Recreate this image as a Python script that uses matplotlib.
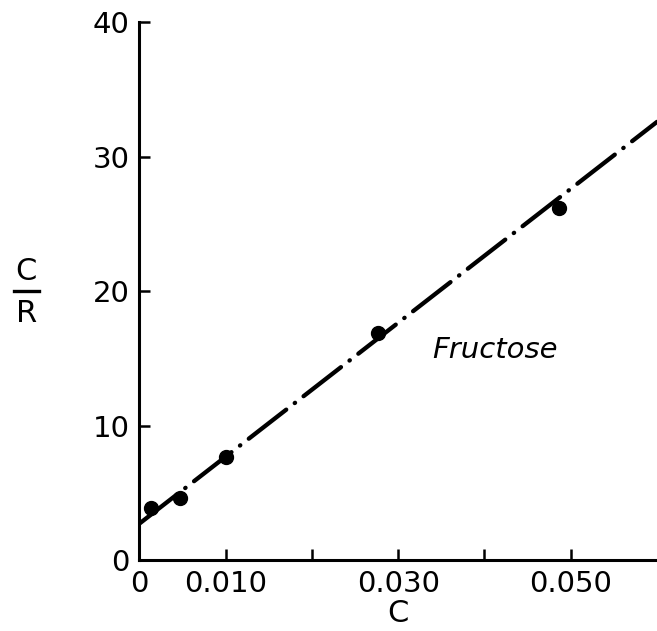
import numpy as np
from matplotlib import pyplot as plt

# data
conc = [0.0014, 0.0047, 0.0100, 0.0277, 0.0487]
c_over_r = [3.9, 4.6, 7.65, 16.9, 26.2]
fit_intercept = 2.7
fit_slope = 498.0
x_ticks = [0, 0.01, 0.02, 0.03, 0.04, 0.05]
x_tick_labels = ["0", "0.010", "", "0.030", "", "0.050"]
y_ticks = [0, 10, 20, 30, 40]


def main():
    plt.rcParams['font.family'] = ['DejaVu Sans']
    fig = plt.figure(figsize=(6.57, 6.31), dpi=100)
    ax = fig.add_axes([0.212, 0.1125, 0.788, 0.8525])

    xs = np.array([0, 0.06])
    ax.plot(xs, fit_intercept + fit_slope * xs, color='black', lw=3.1,
            linestyle=(0, (11, 2.5, 0.1, 2.5)), dash_capstyle='round', solid_capstyle='round')
    ax.plot(conc, c_over_r, 'o', color='black', markersize=10)

    ax.text(0.0339, 15.6, "Fructose", fontsize=21, style='italic', va='center', ha='left')

    ax.set_xlim(0, 0.06)
    ax.set_ylim(0, 40)
    ax.set_xticks(x_ticks)
    ax.set_xticklabels(x_tick_labels)
    ax.set_yticks(y_ticks)
    ax.tick_params(direction='in', length=8, width=1.8, labelsize=21, pad=7)
    for side in ['top', 'right']:
        ax.spines[side].set_visible(False)
    for side in ['left', 'bottom']:
        ax.spines[side].set_linewidth(2.2)

    ax.set_xlabel("C", fontsize=22, labelpad=1)

    # C over R fraction label
    fig.text(0.040, 0.569, "C", fontsize=22, ha='center', va='center')
    fig.text(0.040, 0.503, "R", fontsize=22, ha='center', va='center')
    fig.add_artist(plt.Line2D([0.021, 0.060], [0.539, 0.539], color='black', lw=2.4))

    plt.savefig("out.png", dpi=100)


if __name__ == "__main__":
    main()
